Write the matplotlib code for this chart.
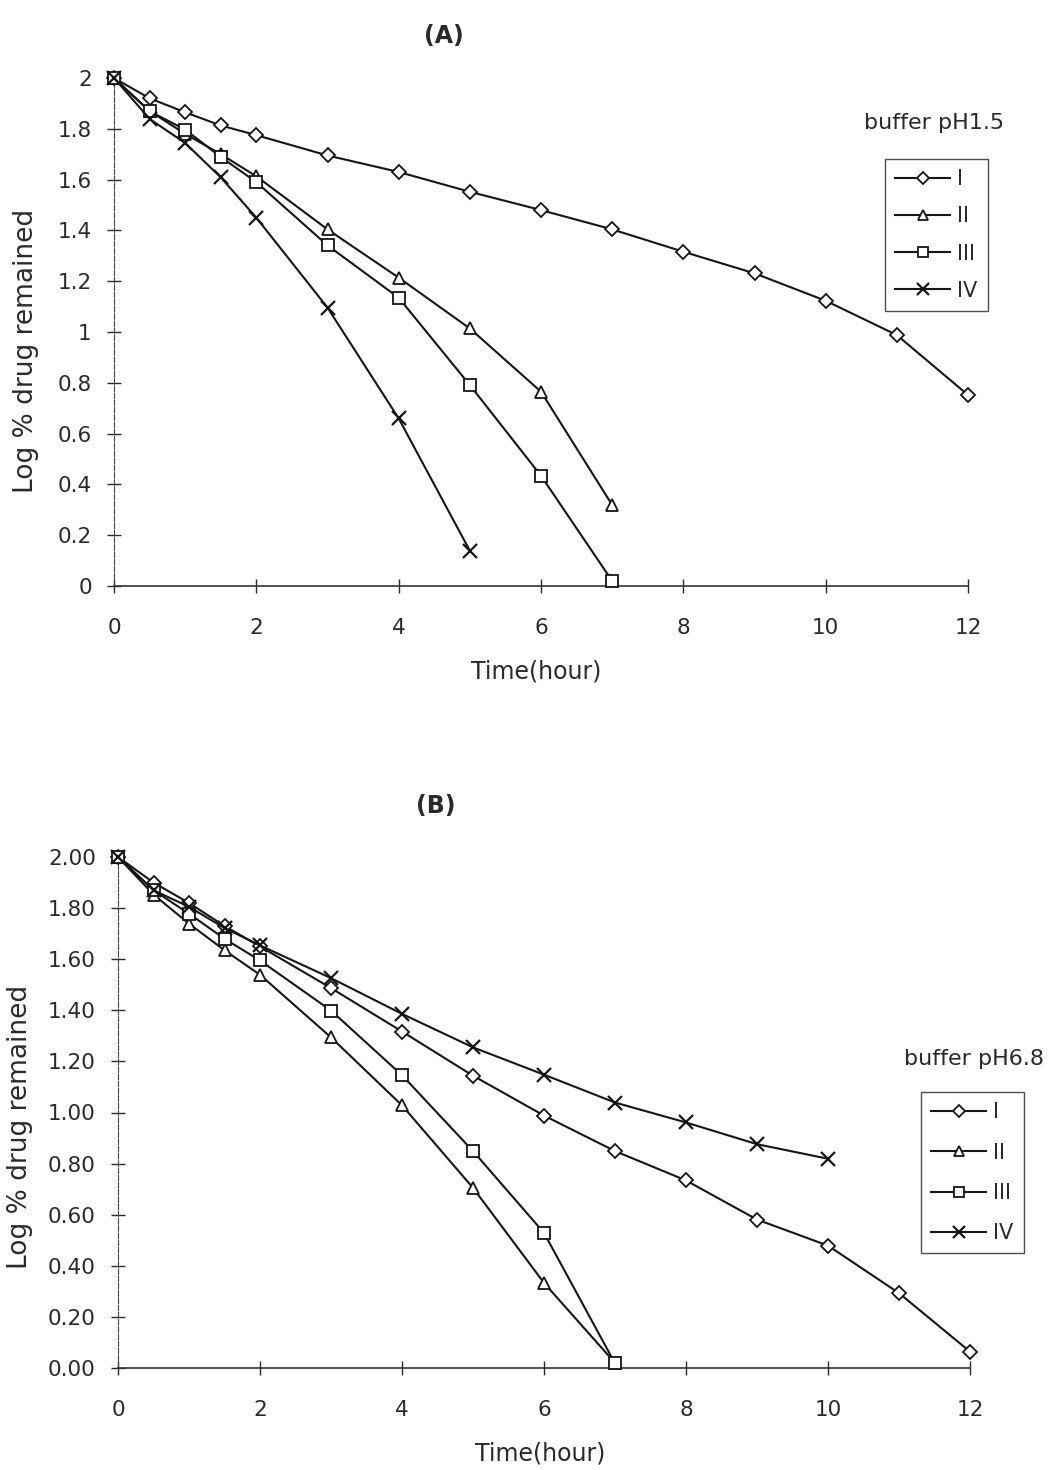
import matplotlib
matplotlib.use("Agg")
import matplotlib.pyplot as plt
from matplotlib.ticker import FixedLocator, FormatStrFormatter, FuncFormatter

plt.rcParams['font.family'] = ['DejaVu Sans']

# ---------------- data: panel A (buffer pH1.5) ----------------
time_A_I = [0, 0.5, 1, 1.5, 2, 3, 4, 5, 6, 7, 8, 9, 10, 11, 12]
logdrug_A_I = [2.0, 1.92, 1.865, 1.813, 1.775, 1.695, 1.63, 1.552, 1.48, 1.404, 1.316, 1.231, 1.123, 0.988, 0.752]

time_A_II = [0, 0.5, 1, 1.5, 2, 3, 4, 5, 6, 7]
logdrug_A_II = [2.0, 1.87, 1.78, 1.70, 1.613, 1.404, 1.214, 1.014, 0.765, 0.319]

time_A_III = [0, 0.5, 1, 1.5, 2, 3, 4, 5, 6, 7]
logdrug_A_III = [2.0, 1.869, 1.797, 1.689, 1.59, 1.341, 1.135, 0.791, 0.434, 0.02]

time_A_IV = [0, 0.5, 1, 1.5, 2, 3, 4, 5]
logdrug_A_IV = [2.0, 1.839, 1.744, 1.609, 1.45, 1.096, 0.66, 0.139]

# ---------------- data: panel B (buffer pH6.8) ----------------
time_B_I = [0, 0.5, 1, 1.5, 2, 3, 4, 5, 6, 7, 8, 9, 10, 11, 12]
logdrug_B_I = [2.0, 1.90, 1.82, 1.73, 1.65, 1.487, 1.317, 1.144, 0.988, 0.849, 0.734, 0.581, 0.479, 0.293, 0.064]

time_B_II = [0, 0.5, 1, 1.5, 2, 3, 4, 5, 6, 7]
logdrug_B_II = [2.0, 1.853, 1.739, 1.635, 1.539, 1.294, 1.028, 0.705, 0.333, 0.02]

time_B_III = [0, 0.5, 1, 1.5, 2, 3, 4, 5, 6, 7]
logdrug_B_III = [2.0, 1.87, 1.778, 1.68, 1.595, 1.399, 1.146, 0.849, 0.529, 0.018]

time_B_IV = [0, 0.5, 1, 1.5, 2, 3, 4, 5, 6, 7, 8, 9, 10]
logdrug_B_IV = [2.0, 1.87, 1.805, 1.722, 1.654, 1.526, 1.386, 1.255, 1.148, 1.039, 0.961, 0.876, 0.819]

series_labels = ["I", "II", "III", "IV"]
x_ticks = [0, 2, 4, 6, 8, 10, 12]
y_ticks = [0, 0.2, 0.4, 0.6, 0.8, 1.0, 1.2, 1.4, 1.6, 1.8, 2.0]

markers = ['D', '^', 's', 'x']
msizes = [7.5, 9, 9, 10]
INK = '#151515'
TXT = '#2a2a2a'
W, H = 1048, 1470

fig = plt.figure(figsize=(W / 100, H / 100), dpi=100)
fig.patch.set_facecolor('white')


def fx(px):
    return px / W


def fy(py):
    return 1 - py / H


def style_axes(ax, yfmt):
    ax.set_xlim(0, 12)
    ax.set_ylim(0, 2)
    ax.spines['top'].set_visible(False)
    ax.spines['right'].set_visible(False)
    ax.spines['left'].set_linewidth(0.8)
    ax.spines['left'].set_linestyle((0, (5, 1.5)))
    ax.spines['left'].set_color('#444444')
    ax.spines['bottom'].set_linewidth(1.2)
    ax.spines['bottom'].set_color('#333333')
    ax.xaxis.set_major_locator(FixedLocator(x_ticks))
    ax.yaxis.set_major_locator(FixedLocator(y_ticks))
    ax.yaxis.set_major_formatter(yfmt)
    ax.tick_params(axis='y', direction='inout', length=10, width=1.0, pad=11,
                   labelsize=15.5, colors=TXT)
    ax.tick_params(axis='x', direction='inout', length=10, width=1.0, pad=18,
                   labelsize=15.5, colors=TXT)
    ax.set_facecolor('none')


def plot_series(ax, data):
    handles = []
    for (t, v), m, ms, lab in zip(data, markers, msizes, series_labels):
        mew = 1.6 if m == 'x' else 1.3
        h, = ax.plot(t, v, color=INK, lw=1.5, marker=m, ms=ms,
                     markerfacecolor='white', markeredgecolor=INK,
                     markeredgewidth=mew, label=lab, clip_on=False, zorder=3)
        handles.append(h)
    return handles


def add_legend(handles, left, top, spacing):
    leg = fig.legend(handles=handles, loc='upper left', bbox_to_anchor=(fx(left), fy(top)),
                     frameon=True, fancybox=False, fontsize=15, handlelength=2.6,
                     handletextpad=0.35, labelspacing=spacing, borderpad=0.5,
                     borderaxespad=0, labelcolor=TXT, markerscale=0.85)
    leg.get_frame().set_edgecolor('#222222')
    leg.get_frame().set_linewidth(1.0)
    return leg


# ---------------- panel A ----------------
axA = fig.add_axes([fx(114), fy(586), (968 - 114) / W, (586 - 78) / H])
style_axes(axA, FuncFormatter(lambda v, p: f"{v:g}"))
hA = plot_series(axA, [(time_A_I, logdrug_A_I), (time_A_II, logdrug_A_II),
                       (time_A_III, logdrug_A_III), (time_A_IV, logdrug_A_IV)])

fig.text(fx(444), fy(36), "(A)", ha='center', va='center',
         fontsize=17, fontweight='bold', color=TXT)
fig.text(fx(536), fy(672), "Time(hour)", ha='center', va='center',
         fontsize=17, color=TXT)
fig.text(fx(26), fy(351), "Log % drug remained", ha='center', va='center',
         rotation=90, fontsize=19, color=TXT)
fig.text(fx(934), fy(123), "buffer pH1.5", ha='center', va='center',
         fontsize=16, color=TXT)
add_legend(hA, 885, 159, 0.82)

# ---------------- panel B ----------------
axB = fig.add_axes([fx(118), fy(1368), (970 - 118) / W, (1368 - 857) / H])
style_axes(axB, FormatStrFormatter('%.2f'))
hB = plot_series(axB, [(time_B_I, logdrug_B_I), (time_B_II, logdrug_B_II),
                       (time_B_III, logdrug_B_III), (time_B_IV, logdrug_B_IV)])

fig.text(fx(436), fy(806), "(B)", ha='center', va='center',
         fontsize=17, fontweight='bold', color=TXT)
fig.text(fx(540), fy(1453), "Time(hour)", ha='center', va='center',
         fontsize=17, color=TXT)
fig.text(fx(20), fy(1127), "Log % drug remained", ha='center', va='center',
         rotation=90, fontsize=19, color=TXT)
fig.text(fx(974), fy(1059), "buffer pH6.8", ha='center', va='center',
         fontsize=16, color=TXT)
add_legend(hB, 921, 1092, 0.97)

fig.savefig("out.png", dpi=100, facecolor='white')
